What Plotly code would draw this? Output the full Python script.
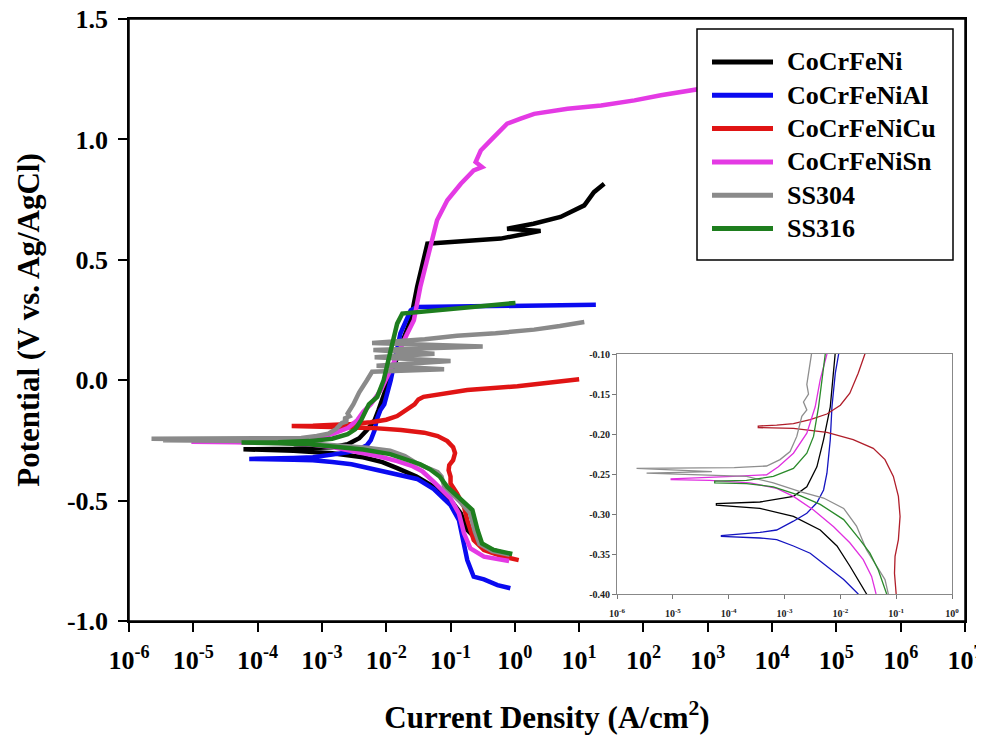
import numpy as np
import plotly.graph_objects as go

# ---------------- data ----------------
series_names = ["CoCrFeNi", "CoCrFeNiAl", "CoCrFeNiCu", "CoCrFeNiSn", "SS304", "SS316"]
main_colors = ["#000000", "#0a0af0", "#e01414", "#e43ae4", "#8a8a8a", "#1e7e1e"]
inset_colors = ["#000000", "#1414c0", "#b01e2a", "#e030e0", "#8e8e8e", "#2a8a2a"]

# log10(current density, A/cm2) and potential (V vs. Ag/AgCl), ordered cathodic -> anodic
cocrfeni_logi = [-0.07, -0.43, -0.58, -0.74, -0.84, -1.00, -1.26, -1.53, -1.83, -2.06, -2.36, -2.84,
                 -3.44, -4.22, -4.22, -3.44, -2.84, -2.60, -2.42, -2.30, -2.18, -2.12, -2.09, -1.98,
                 -1.85, -1.72, -1.62, -1.52, -1.36, -1.21, -0.74, -0.22, 0.19, 0.40, -0.12, 0.29,
                 0.71, 1.08, 1.23, 1.39]
cocrfeni_E = [-0.726, -0.699, -0.664, -0.622, -0.553, -0.498, -0.443, -0.400, -0.365, -0.340, -0.320,
              -0.303, -0.293, -0.289, -0.287, -0.285, -0.278, -0.266, -0.241, -0.207, -0.166, -0.124,
              -0.100, -0.020, 0.080, 0.180, 0.250, 0.387, 0.567, 0.570, 0.578, 0.588, 0.609, 0.620,
              0.629, 0.650, 0.678, 0.726, 0.781, 0.816]

cocrfenial_logi = [-0.07, -0.27, -0.48, -0.64, -0.74, -0.82, -0.87, -1.00, -1.26, -1.52, -1.68, -1.94,
                   -2.24, -2.54, -2.84, -3.14, -3.44, -4.13, -4.13, -3.44, -3.14, -2.84, -2.60, -2.42,
                   -2.30, -2.24, -2.18, -2.15, -2.09, -2.03, -1.93, -1.78, -1.62, -1.52, -0.22, 1.26]
cocrfenial_E = [-0.864, -0.851, -0.827, -0.816, -0.747, -0.636, -0.581, -0.519, -0.452, -0.410,
                -0.400, -0.382, -0.365, -0.349, -0.340, -0.332, -0.330, -0.328, -0.327, -0.323,
                -0.320, -0.309, -0.299, -0.286, -0.270, -0.249, -0.207, -0.166, -0.124, -0.100,
                0.000, 0.194, 0.290, 0.304, 0.307, 0.313]

cocrfenicu_logi = [0.06, -0.17, -0.48, -0.64, -0.74, -0.79, -0.90, -1.00, -1.00, -1.03, -1.02, -0.96,
                   -0.93, -0.96, -1.05, -1.20, -1.41, -1.77, -2.24, -2.84, -3.47, -3.47, -3.14, -2.84,
                   -2.54, -2.24, -2.00, -1.83, -1.68, -1.56, -1.50, -1.42, -0.74, 0.04, 1.00]
cocrfenicu_E = [-0.747, -0.733, -0.705, -0.664, -0.581, -0.526, -0.470, -0.429, -0.400, -0.374,
                -0.353, -0.332, -0.303, -0.278, -0.253, -0.232, -0.218, -0.207, -0.198, -0.193,
                -0.192, -0.190, -0.189, -0.187, -0.182, -0.175, -0.164, -0.149, -0.124, -0.100,
                -0.080, -0.069, -0.041, -0.025, 0.004]

cocrfenisn_logi = [-0.09, -0.48, -0.69, -0.79, -0.87, -1.00, -1.26, -1.36, -1.44, -1.59, -1.83, -2.12,
                   -2.48, -2.84, -3.14, -3.62, -4.34, -5.03, -5.03, -4.52, -3.92, -3.32, -3.11, -2.84,
                   -2.60, -2.45, -2.36, -2.24, -2.08, -1.95, -1.82, -1.68, -1.57, -1.47, -1.31, -1.21,
                   -1.05, -0.84, -0.64, -0.51, -0.61, -0.53, -0.35, -0.12, 0.09, 0.30, 0.82, 1.34,
                   1.86, 2.27, 2.89, 3.00]
cocrfenisn_E = [-0.751, -0.733, -0.699, -0.636, -0.553, -0.491, -0.422, -0.400, -0.378, -0.357,
                -0.336, -0.316, -0.295, -0.278, -0.268, -0.261, -0.258, -0.257, -0.256, -0.255,
                -0.253, -0.251, -0.241, -0.224, -0.199, -0.166, -0.132, -0.100, -0.040, 0.030,
                0.110, 0.190, 0.249, 0.387, 0.553, 0.664, 0.747, 0.816, 0.871, 0.885, 0.906,
                0.954, 1.003, 1.065, 1.086, 1.106, 1.127, 1.141, 1.162, 1.183, 1.210, 1.237]

ss304_logi = [-0.08, -0.35, -0.55, -0.62, -0.70, -0.87, -1.10, -1.14, -1.20, -1.35, -1.53, -1.71,
              -1.94, -2.30, -2.72, -3.20, -3.68, -5.47, -4.30, -5.65, -3.90, -3.32, -3.08, -2.90,
              -2.78, -2.69, -2.60, -2.66, -2.57, -2.60, -2.51, -2.42, -2.30, -2.22, -1.10, -2.15,
              -1.00, -2.18, -1.25, -2.20, -0.50, -2.22, -1.40, -0.90, -0.30, 0.30, 0.70, 1.08]
ss304_E = [-0.725, -0.710, -0.680, -0.630, -0.550, -0.500, -0.440, -0.400, -0.382, -0.365, -0.345,
           -0.315, -0.293, -0.280, -0.272, -0.261, -0.253, -0.249, -0.247, -0.243, -0.242, -0.240,
           -0.232, -0.222, -0.203, -0.178, -0.170, -0.160, -0.150, -0.138, -0.100, -0.050, 0.000,
           0.035, 0.045, 0.060, 0.080, 0.095, 0.110, 0.125, 0.140, 0.155, 0.170, 0.185, 0.195,
           0.210, 0.225, 0.242]

ss316_logi = [-0.04, -0.33, -0.51, -0.58, -0.66, -0.82, -1.05, -1.17, -1.32, -1.47, -1.65, -1.94,
              -2.36, -2.72, -3.20, -3.68, -4.25, -4.25, -3.68, -3.20, -2.84, -2.60, -2.48, -2.39,
              -2.33, -2.27, -2.14, -2.04, -1.93, -1.83, -1.75, 0.01]
ss316_E = [-0.722, -0.705, -0.678, -0.622, -0.539, -0.498, -0.443, -0.400, -0.370, -0.349, -0.332,
           -0.307, -0.288, -0.277, -0.266, -0.262, -0.261, -0.259, -0.258, -0.253, -0.243, -0.224,
           -0.203, -0.166, -0.132, -0.100, -0.069, 0.000, 0.124, 0.235, 0.277, 0.321]

series_logi = [cocrfeni_logi, cocrfenial_logi, cocrfenicu_logi, cocrfenisn_logi, ss304_logi, ss316_logi]
series_E = [cocrfeni_E, cocrfenial_E, cocrfenicu_E, cocrfenisn_E, ss304_E, ss316_E]

main_x_exponents = list(range(-6, 8))
main_y_ticks = [-1.0, -0.5, 0.0, 0.5, 1.0, 1.5]
main_y_labels = ["-1.0", "-0.5", "0.0", "0.5", "1.0", "1.5"]
inset_x_exponents = list(range(-6, 1))
inset_y_ticks = [-0.40, -0.35, -0.30, -0.25, -0.20, -0.15, -0.10]
inset_y_labels = ["-0.40", "-0.35", "-0.30", "-0.25", "-0.20", "-0.15", "-0.10"]

# ---------------- figure ----------------
FONT = "Liberation Serif"
fig = go.Figure()

for name, lg, e, c in zip(series_names, series_logi, series_E, main_colors):
    fig.add_trace(go.Scatter(x=np.power(10.0, lg), y=e, mode="lines", name=name,
                             line=dict(color=c, width=4.5), xaxis="x", yaxis="y",
                             showlegend=False, hoverinfo="skip"))
for name, lg, e, c in zip(series_names, series_logi, series_E, inset_colors):
    fig.add_trace(go.Scatter(x=np.power(10.0, lg), y=e, mode="lines", name=name,
                             line=dict(color=c, width=1.3), xaxis="x2", yaxis="y2",
                             showlegend=False, hoverinfo="skip"))

W, H = 984, 737
OFF = 8  # page body margin of the html page
# plot area in page pixels
PL, PR, PT, PB = 129, 965, 19, 621
ML, MT = PL - OFF, PT - OFF
MR, MB = W + OFF - PR, H + OFF - PB
PW, PH = PR - PL, PB - PT


def px_to_paper_x(px):
    return (px - PL) / PW


def py_to_paper_y(py):
    return (PB - py) / PH


# frame of the main plot and manual legend (box, line samples, labels)
shapes = [dict(type="rect", xref="paper", yref="paper", x0=0, x1=1, y0=0, y1=1,
               line=dict(color="black", width=1.5), fillcolor="rgba(0,0,0,0)", layer="above"),
          dict(type="rect", xref="paper", yref="paper",
               x0=px_to_paper_x(697), x1=px_to_paper_x(953),
               y0=py_to_paper_y(260), y1=py_to_paper_y(29),
               line=dict(color="black", width=1.5), fillcolor="white", layer="above")]
annotations = []
for k, (name, c) in enumerate(zip(series_names, main_colors)):
    yrow = py_to_paper_y(62 + 33.3 * k)
    shapes.append(dict(type="line", xref="paper", yref="paper",
                       x0=px_to_paper_x(712), x1=px_to_paper_x(773), y0=yrow, y1=yrow,
                       line=dict(color=c, width=5), layer="above"))
    annotations.append(dict(xref="paper", yref="paper", x=px_to_paper_x(785), y=yrow,
                            xanchor="left", yanchor="middle", showarrow=False, text=name,
                            font=dict(family=FONT, size=26, color="black", weight="bold")))

inset_x0, inset_x1 = px_to_paper_x(617), px_to_paper_x(952)
inset_y0, inset_y1 = py_to_paper_y(594), py_to_paper_y(354)

fig.update_layout(
    width=W, height=H,
    margin=dict(l=ML, r=MR, t=MT, b=MB, autoexpand=False),
    paper_bgcolor="white", plot_bgcolor="white",
    showlegend=False,
    shapes=shapes, annotations=annotations,
    xaxis=dict(type="log", range=[-6, 7], domain=[0, 1], anchor="y", automargin=False,
               tickmode="array", tickvals=[10.0 ** k for k in main_x_exponents],
               ticktext=["10<sup>%d</sup>" % k for k in main_x_exponents],
               ticks="outside", ticklen=9, tickwidth=1.5, tickcolor="black",
               showline=True, linecolor="black", linewidth=1.5, mirror=True,
               showgrid=False, zeroline=False, ticklabelstandoff=6, ticklabeloverflow="allow",
               tickfont=dict(family=FONT, size=26, color="black", weight="bold"),
               title=dict(text="Current Density (A/cm<sup>2</sup>)", standoff=32,
                          font=dict(family=FONT, size=31, color="black", weight="bold"))),
    yaxis=dict(range=[-1.0, 1.5], domain=[0, 1], anchor="x", automargin=False,
               tickmode="array", tickvals=main_y_ticks, ticktext=main_y_labels,
               ticks="outside", ticklen=9, tickwidth=1.5, tickcolor="black",
               showline=True, linecolor="black", linewidth=1.5, mirror=True,
               showgrid=False, zeroline=False, ticklabelstandoff=5, ticklabeloverflow="allow",
               tickfont=dict(family=FONT, size=26, color="black", weight="bold"),
               title=dict(text="Potential (V vs. Ag/AgCl)", standoff=18,
                          font=dict(family=FONT, size=31, color="black", weight="bold"))),
    xaxis2=dict(type="log", range=[-6, 0], domain=[inset_x0, inset_x1], anchor="y2",
                automargin=False,
                tickmode="array", tickvals=[10.0 ** k for k in inset_x_exponents],
                ticktext=["10<sup>%d</sup>" % k for k in inset_x_exponents],
                ticks="outside", ticklen=4, tickwidth=1, tickcolor="#777777",
                showline=True, linecolor="#888888", linewidth=1, mirror=True,
                showgrid=False, zeroline=False, ticklabelstandoff=6,
                tickfont=dict(family=FONT, size=10, color="#222222", weight="bold")),
    yaxis2=dict(range=[-0.40, -0.10], domain=[inset_y0, inset_y1], anchor="x2",
                automargin=False,
                tickmode="array", tickvals=inset_y_ticks, ticktext=inset_y_labels,
                ticks="outside", ticklen=4, tickwidth=1, tickcolor="#777777",
                showline=True, linecolor="#888888", linewidth=1, mirror=True,
                showgrid=False, zeroline=False,
                tickfont=dict(family=FONT, size=10, color="#222222", weight="bold")),
)

fig.write_html("out.html")
